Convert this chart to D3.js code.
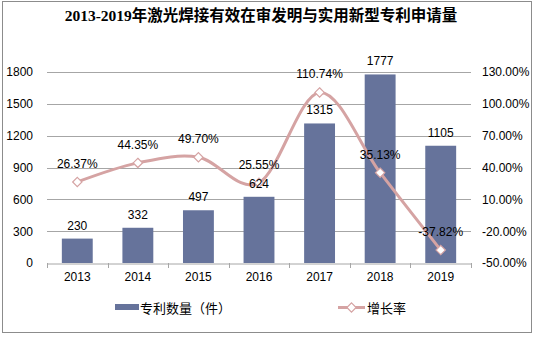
<!DOCTYPE html>
<html>
<head>
<meta charset="utf-8">
<script src="https://cdn.jsdelivr.net/npm/d3@7"></script>
<style>
  html, body { margin: 0; padding: 0; background: #fff; }
  svg { display: block; }
</style>
</head>
<body>
<svg id="chart" width="534" height="337"></svg>
<script>
const title = "2013-2019年激光焊接有效在审发明与实用新型专利申请量";
const years = ["2013", "2014", "2015", "2016", "2017", "2018", "2019"];
const patents = [230, 332, 497, 624, 1315, 1777, 1105];
const growth = [26.37, 44.35, 49.70, 25.55, 110.74, 35.13, -37.82];
const leftTicks = [0, 300, 600, 900, 1200, 1500, 1800];
const rightTicks = [-50, -20, 10, 40, 70, 100, 130];
const barName = "专利数量（件）";
const lineName = "增长率";

const barColor = "#66739B";
const lineColor = "#D5A3A3";
const gridColor = "#A6A6A6";
const font = "'Liberation Sans', Arial, 'Noto Sans CJK SC', sans-serif";

const svg = d3.select("#chart");
const m = { left: 47, right: 471, top: 72, bottom: 263 };

// frame
svg.append("rect").attr("x", 2.5).attr("y", 1.5).attr("width", 529).attr("height", 331)
  .attr("fill", "#fff").attr("stroke", "#8C8C8C").attr("stroke-width", 1);

// title
svg.append("text").attr("x", 261).attr("y", 21).attr("text-anchor", "middle")
  .attr("font-family", "'Liberation Serif', 'Noto Sans CJK SC', serif")
  .attr("font-weight", "bold").attr("font-size", 15.5).attr("fill", "#000")
  .text(title);

const x = d3.scaleBand().domain(years).range([m.left, m.right]).paddingInner(0).paddingOuter(0);
const yL = d3.scaleLinear().domain([0, 1800]).range([m.bottom, m.top]);
const yR = d3.scaleLinear().domain([-50, 130]).range([m.bottom, m.top]);

// gridlines
svg.append("g").selectAll("line").data(leftTicks.filter(d => d > 0)).join("line")
  .attr("x1", m.left).attr("x2", m.right)
  .attr("y1", d => Math.round(yL(d)) + 0.5).attr("y2", d => Math.round(yL(d)) + 0.5)
  .attr("stroke", gridColor).attr("stroke-width", 1);

// left axis labels
const leftAxis = d3.axisLeft(yL).tickValues(leftTicks).tickSize(0).tickPadding(14)
  .tickFormat(d3.format("d"));
const gL = svg.append("g").attr("transform", `translate(${m.left},0)`).call(leftAxis);
gL.select(".domain").remove();
gL.selectAll("text").attr("font-family", font).attr("font-size", 12).attr("fill", "#000");

// right axis labels
const rightAxis = d3.axisRight(yR).tickValues(rightTicks).tickSize(0).tickPadding(11)
  .tickFormat(d => d.toFixed(2) + "%");
const gR = svg.append("g").attr("transform", `translate(${m.right},0)`).call(rightAxis);
gR.select(".domain").remove();
gR.selectAll("text").attr("font-family", font).attr("font-size", 12).attr("fill", "#000");

// bars
const bw = x.bandwidth() * 0.51;
svg.append("g").selectAll("rect").data(years).join("rect")
  .attr("x", (d) => x(d) + (x.bandwidth() - bw) / 2)
  .attr("width", bw)
  .attr("y", (d, i) => yL(patents[i]))
  .attr("height", (d, i) => yL(0) - yL(patents[i]))
  .attr("fill", barColor);

// bottom axis
const bottomAxis = d3.axisBottom(x).tickSize(0).tickPadding(9);
const gB = svg.append("g").attr("transform", `translate(0,${m.bottom + 0.5})`).call(bottomAxis);
gB.select(".domain").attr("stroke", gridColor);
gB.selectAll("text").attr("font-family", font).attr("font-size", 12).attr("fill", "#000");
// category boundary ticks
const bounds = years.map(d => x(d)).concat([m.right]);
svg.append("g").selectAll("line").data(bounds).join("line")
  .attr("x1", d => Math.round(d) + 0.5).attr("x2", d => Math.round(d) + 0.5)
  .attr("y1", m.bottom).attr("y2", m.bottom + 5)
  .attr("stroke", gridColor);

// line
const cx = d => x(d) + x.bandwidth() / 2;
const pts = years.map((d, i) => [cx(d), yR(growth[i])]);
svg.append("path").datum(pts)
  .attr("d", d3.line().curve(d3.curveCardinal.tension(0)))
  .attr("fill", "none").attr("stroke", lineColor).attr("stroke-width", 3);

// markers
const diamond = d3.symbol().type(d3.symbolDiamond2).size(55);
svg.append("g").selectAll("path").data(pts).join("path")
  .attr("transform", d => `translate(${d[0]},${d[1]})`)
  .attr("d", diamond)
  .attr("fill", "#fff").attr("stroke", lineColor).attr("stroke-width", 1.2);

// bar labels
svg.append("g").selectAll("text").data(years).join("text")
  .attr("x", d => cx(d)).attr("y", (d, i) => yL(patents[i]) - 9)
  .attr("text-anchor", "middle").attr("font-family", font).attr("font-size", 12)
  .attr("fill", "#000").text((d, i) => patents[i]);

// percent labels
svg.append("g").selectAll("text").data(years).join("text")
  .attr("x", d => cx(d)).attr("y", (d, i) => yR(growth[i]) - 14)
  .attr("text-anchor", "middle").attr("font-family", font).attr("font-size", 12)
  .attr("fill", "#000").text((d, i) => growth[i].toFixed(2) + "%");

// legend
const lg = svg.append("g");
lg.append("rect").attr("x", 115).attr("y", 304).attr("width", 24).attr("height", 6).attr("fill", barColor);
lg.append("text").attr("x", 140).attr("y", 312.5).attr("font-family", "'Noto Sans CJK SC', sans-serif")
  .attr("font-size", 13).attr("fill", "#000").text(barName);
lg.append("line").attr("x1", 338).attr("x2", 365).attr("y1", 307.5).attr("y2", 307.5)
  .attr("stroke", lineColor).attr("stroke-width", 3);
lg.append("path").attr("transform", "translate(351.5,307.5)").attr("d", diamond)
  .attr("fill", "#fff").attr("stroke", lineColor).attr("stroke-width", 1.2);
lg.append("text").attr("x", 367).attr("y", 312.5).attr("font-family", "'Noto Sans CJK SC', sans-serif")
  .attr("font-size", 13).attr("fill", "#000").text(lineName);
</script>
</body>
</html>
